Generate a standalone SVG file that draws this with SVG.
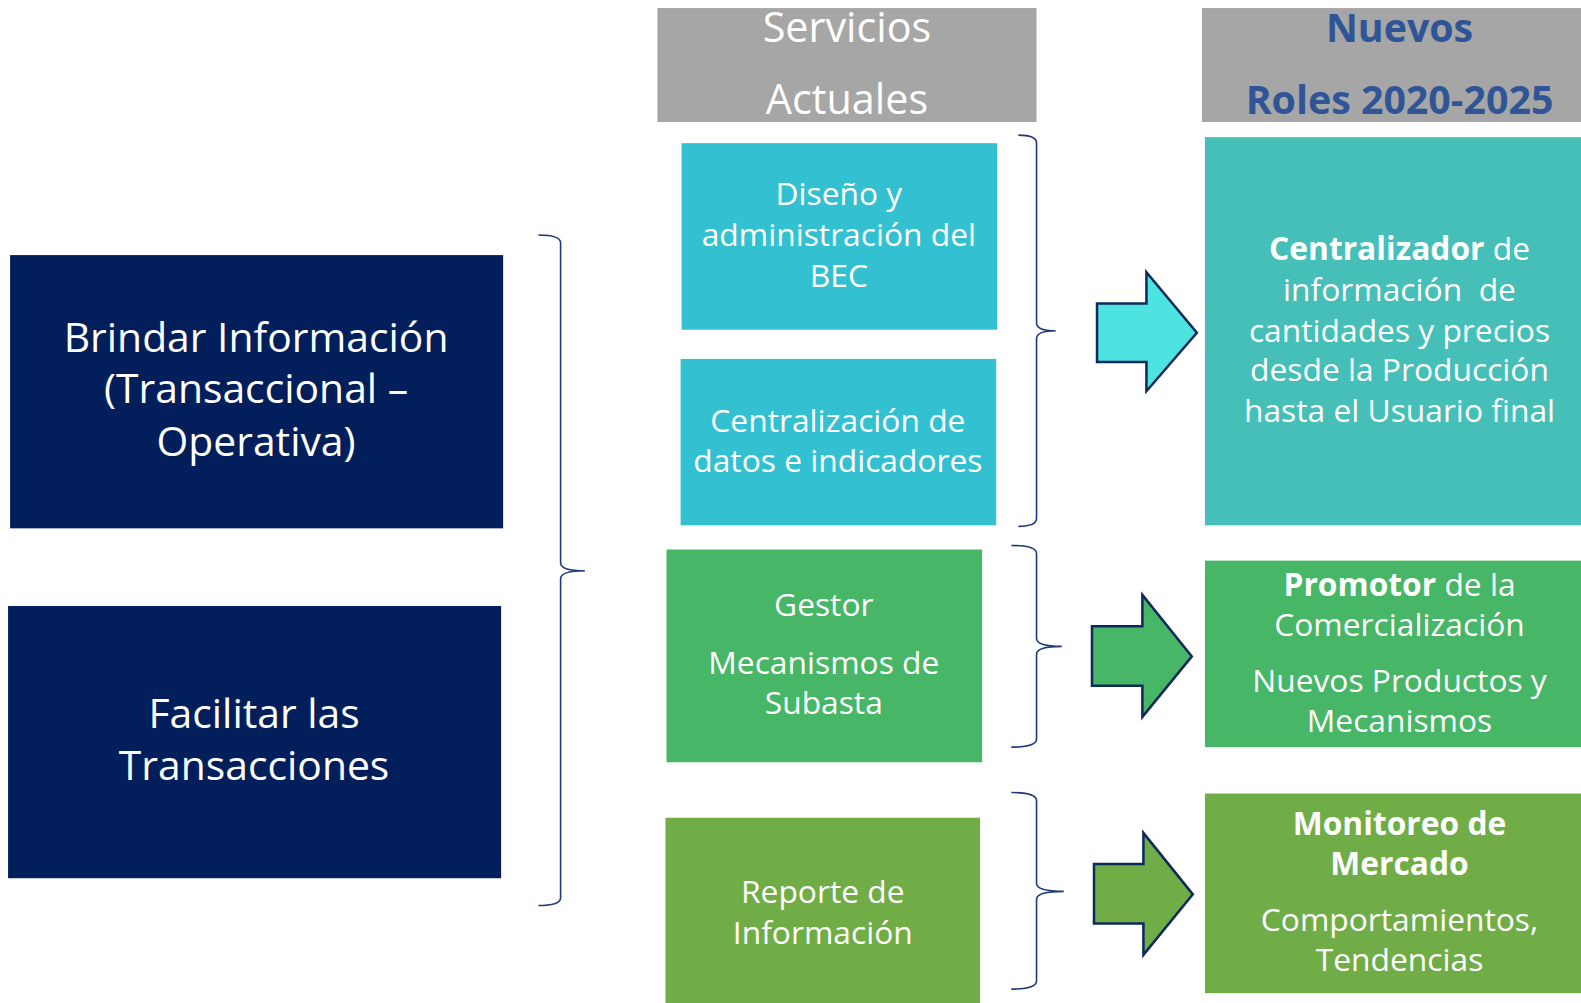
<svg xmlns="http://www.w3.org/2000/svg" width="1581" height="1003" viewBox="0 0 1581 1003">
<style>
.t{font-family:"Open Sans","Noto Sans","Liberation Sans",sans-serif;fill:#fff;text-anchor:middle}
.b{font-weight:bold}
.hd{fill:#A6A6A6}
.brace{fill:none;stroke:#1F3A7A;stroke-width:1.6}
.arr{stroke:#0E2A5C;stroke-width:2.5;stroke-linejoin:miter}
</style>
<rect width="1581" height="1003" fill="#fff"/>
<g transform="scale(1.0083)">
<g id="hdr-servicios">
<rect class="hd" x="652" y="8" width="376" height="113"/>
<text class="t" x="840" y="42" font-size="41">Servicios</text>
<text class="t" x="840" y="113" font-size="41">Actuales</text>
</g>
<g id="hdr-nuevos">
<rect class="hd" x="1192" y="8" width="389" height="113"/>
<text class="t b" x="1388" y="42" font-size="39" style="fill:#2F5597">Nuevos</text>
<text class="t b" x="1388" y="113" font-size="39" style="fill:#2F5597">Roles 2020-2025</text>
</g>
<g id="brindar">
<rect x="10" y="253" width="489" height="271" fill="#021F5C"/>
<text class="t" font-size="40.5"><tspan x="254" y="349">Brindar Información</tspan><tspan x="254" y="400">(Transaccional –</tspan><tspan x="254" y="452">Operativa)</tspan></text>
</g>
<g id="facilitar">
<rect x="8" y="601" width="489" height="270" fill="#021F5C"/>
<text class="t" font-size="40.5"><tspan x="252" y="722">Facilitar las</tspan><tspan x="252" y="774">Transacciones</tspan></text>
</g>
<g id="diseno">
<rect x="676" y="142" width="313" height="185" fill="#33C1D1"/>
<text class="t" font-size="31.5"><tspan x="832" y="203">Diseño y</tspan><tspan x="832" y="244">administración del</tspan><tspan x="832" y="285">BEC</tspan></text>
</g>
<g id="centralizacion">
<rect x="675" y="356" width="313" height="165" fill="#33C1D1"/>
<text class="t" font-size="31.5"><tspan x="831" y="428">Centralización de</tspan><tspan x="831" y="468">datos e indicadores</tspan></text>
</g>
<g id="gestor">
<rect x="661" y="545" width="313" height="211" fill="#47B666"/>
<text class="t" font-size="31.5"><tspan x="817" y="611">Gestor</tspan><tspan x="817" y="668">Mecanismos de</tspan><tspan x="817" y="708">Subasta</tspan></text>
</g>
<g id="reporte">
<rect x="660" y="811" width="312" height="184" fill="#70AD47"/>
<text class="t" font-size="31.5"><tspan x="816" y="896">Reporte de</tspan><tspan x="816" y="936">Información</tspan></text>
</g>
<g id="centralizador">
<rect x="1195" y="136" width="386" height="385" fill="#45BFB8"/>
<text class="t" font-size="31.5" xml:space="preserve"><tspan x="1388" y="258"><tspan class="b">Centralizador</tspan> de</tspan><tspan x="1388" y="299">información  de</tspan><tspan x="1388" y="339">cantidades y precios</tspan><tspan x="1388" y="378">desde la Producción</tspan><tspan x="1388" y="419">hasta el Usuario final</tspan></text>
</g>
<g id="promotor">
<rect x="1195" y="556" width="386" height="185" fill="#47B666"/>
<text class="t" font-size="31.5"><tspan x="1388" y="591"><tspan class="b">Promotor</tspan> de la</tspan><tspan x="1388" y="631">Comercialización</tspan><tspan x="1388" y="686">Nuevos Productos y</tspan><tspan x="1388" y="726">Mecanismos</tspan></text>
</g>
<g id="monitoreo">
<rect x="1195" y="787" width="386" height="198" fill="#70AD47"/>
<text class="t" font-size="31.5"><tspan class="b" x="1388" y="828">Monitoreo de</tspan><tspan class="b" x="1388" y="868">Mercado</tspan><tspan x="1388" y="923">Comportamientos,</tspan><tspan x="1388" y="963">Tendencias</tspan></text>
</g>
<g id="connectors">
<path class="brace" d="M534,233 Q556,233 556,241 L556,558 Q556,566 580,566 Q556,566 556,574 L556,890 Q556,898 534,898"/>
<path class="brace" d="M1010,134 Q1028,134 1028,142 L1028,320 Q1028,328 1047,328 Q1028,328 1028,336 L1028,514 Q1028,522 1010,522"/>
<path class="brace" d="M1003,541 Q1028,541 1028,549 L1028,633 Q1028,641 1053,641 Q1028,641 1028,649 L1028,733 Q1028,741 1003,741"/>
<path class="brace" d="M1003,786 Q1028,786 1028,794 L1028,876 Q1028,884 1055,884 Q1028,884 1028,892 L1028,973 Q1028,981 1003,981"/>
<polygon class="arr" fill="#4DE3E0" points="1088,301 1137,301 1137,270 1187,330 1137,388 1137,359 1088,359"/>
<polygon class="arr" fill="#47B666" points="1083,621 1133,621 1133,590 1182,651 1133,711 1133,680 1083,680"/>
<polygon class="arr" fill="#70AD47" points="1085,857 1134,857 1134,826 1183,887 1134,947 1134,916 1085,916"/>
</g>
</g>
</svg>
